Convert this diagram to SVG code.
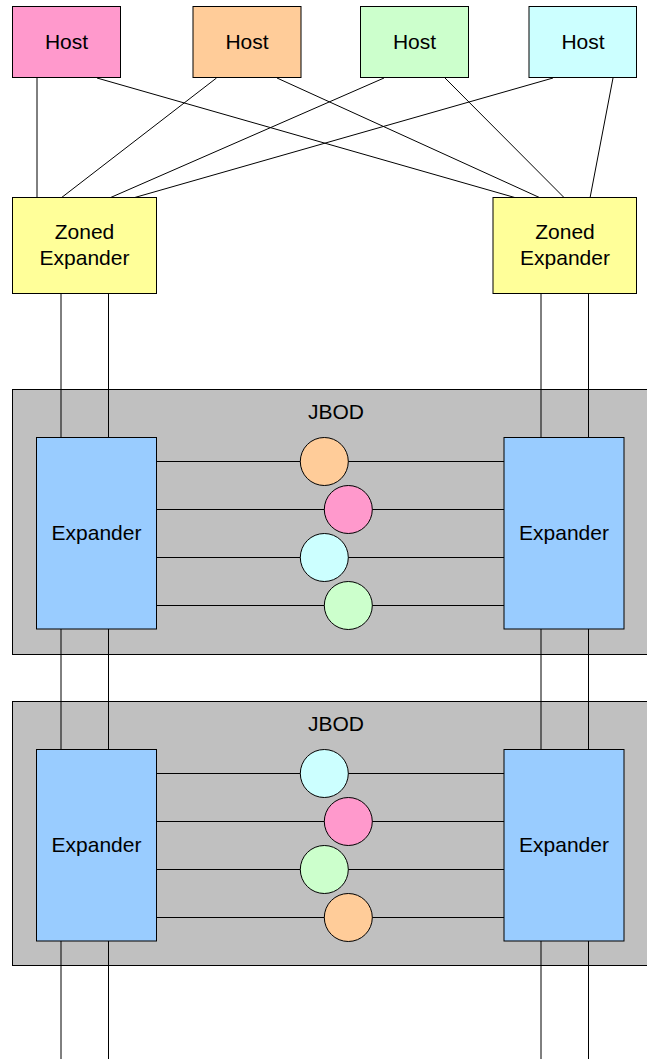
<svg xmlns="http://www.w3.org/2000/svg" width="647" height="1059" viewBox="0 0 647 1059">
<style>
rect, circle { stroke: #000; stroke-width: 1; }
.lines line { stroke: #000; stroke-width: 1; }
text { font-family: "Liberation Sans", Arial, sans-serif; font-size: 21px; fill: #000; text-anchor: middle; }
.jbod { fill: #C0C0C0; }
.exp { fill: #99CCFF; }
.ze { fill: #FFFF99; }
.pink { fill: #FF99CC; }
.orange { fill: #FFCC99; }
.green { fill: #CCFFCC; }
.cyan { fill: #CCFFFF; }
</style>

<g id="jbod1"><rect class="jbod" x="12.5" y="389.5" width="650" height="265"/><text x="336" y="419">JBOD</text></g>
<g id="jbod2"><rect class="jbod" x="12.5" y="701.5" width="650" height="264"/><text x="336" y="731">JBOD</text></g>

<g class="lines" id="connectors">
<line x1="37" y1="78" x2="37" y2="198"/>
<line x1="97" y1="78" x2="516.5" y2="198"/>
<line x1="216.5" y1="78" x2="61" y2="198"/>
<line x1="277" y1="78" x2="540.5" y2="198"/>
<line x1="384" y1="78" x2="109.5" y2="198"/>
<line x1="445" y1="78" x2="564.5" y2="198"/>
<line x1="553" y1="78" x2="133" y2="198"/>
<line x1="613" y1="78" x2="590" y2="198"/>

<line x1="61" y1="293" x2="61" y2="1059"/>
<line x1="108.5" y1="293" x2="108.5" y2="1059"/>
<line x1="541" y1="293" x2="541" y2="1059"/>
<line x1="588.5" y1="293" x2="588.5" y2="1059"/>

<line x1="156" y1="461.5" x2="504" y2="461.5"/>
<line x1="156" y1="509.5" x2="504" y2="509.5"/>
<line x1="156" y1="557.5" x2="504" y2="557.5"/>
<line x1="156" y1="605.5" x2="504" y2="605.5"/>

<line x1="156" y1="773.5" x2="504" y2="773.5"/>
<line x1="156" y1="821.5" x2="504" y2="821.5"/>
<line x1="156" y1="869.5" x2="504" y2="869.5"/>
<line x1="156" y1="917.5" x2="504" y2="917.5"/>
</g>

<g id="host1"><rect class="pink" x="12.5" y="6.5" width="108" height="71"/><text x="66.5" y="49">Host</text></g>
<g id="host2"><rect class="orange" x="193" y="6.5" width="108" height="71"/><text x="247" y="49">Host</text></g>
<g id="host3"><rect class="green" x="360.5" y="6.5" width="108" height="71"/><text x="414.5" y="49">Host</text></g>
<g id="host4"><rect class="cyan" x="529" y="6.5" width="107.5" height="71"/><text x="583" y="49">Host</text></g>

<g id="zexp1"><rect class="ze" x="12.5" y="197.5" width="144" height="96"/><text x="84.5" y="239">Zoned</text><text x="84.5" y="265">Expander</text></g>
<g id="zexp2"><rect class="ze" x="493" y="197.5" width="143.5" height="96"/><text x="565" y="239">Zoned</text><text x="565" y="265">Expander</text></g>

<g id="exp1l"><rect class="exp" x="36.5" y="437.5" width="120" height="191.5"/><text x="96.5" y="540">Expander</text></g>
<g id="exp1r"><rect class="exp" x="504" y="437.5" width="120" height="191.5"/><text x="564" y="540">Expander</text></g>
<g id="exp2l"><rect class="exp" x="36.5" y="749.5" width="120" height="191.5"/><text x="96.5" y="852">Expander</text></g>
<g id="exp2r"><rect class="exp" x="504" y="749.5" width="120" height="191.5"/><text x="564" y="852">Expander</text></g>

<g id="disk1a"><circle class="orange" cx="324.3" cy="461.5" r="24"/></g>
<g id="disk1b"><circle class="pink" cx="348.3" cy="509.5" r="24"/></g>
<g id="disk1c"><circle class="cyan" cx="324.3" cy="557.5" r="24"/></g>
<g id="disk1d"><circle class="green" cx="348.3" cy="605.5" r="24"/></g>

<g id="disk2a"><circle class="cyan" cx="324.3" cy="773.5" r="24"/></g>
<g id="disk2b"><circle class="pink" cx="348.3" cy="821.5" r="24"/></g>
<g id="disk2c"><circle class="green" cx="324.3" cy="869.5" r="24"/></g>
<g id="disk2d"><circle class="orange" cx="348.3" cy="917.5" r="24"/></g>
</svg>
